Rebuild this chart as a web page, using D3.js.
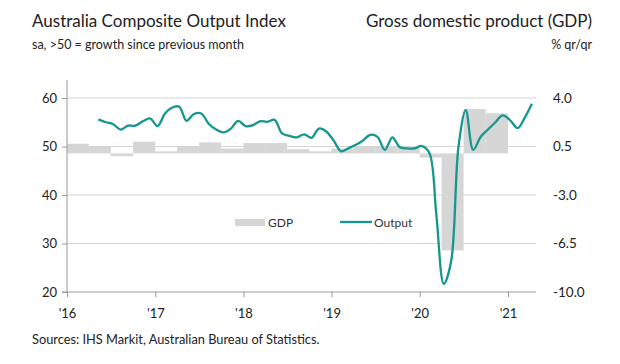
<!DOCTYPE html>
<html><head><meta charset="utf-8">
<script src="https://cdn.jsdelivr.net/npm/d3@7"></script>
<style>
html,body{margin:0;padding:0;background:#fff;}
svg{display:block;font-family:Lato,"Open Sans",sans-serif;}
</style></head>
<body><svg id="c" width="620" height="364"></svg>
<script>
// ---- data ----
// GDP % q/q, quarterly 2016 Q1 .. 2020 Q4
const gdpQuarters = ["2016Q1","2016Q2","2016Q3","2016Q4","2017Q1","2017Q2","2017Q3","2017Q4",
  "2018Q1","2018Q2","2018Q3","2018Q4","2019Q1","2019Q2","2019Q3","2019Q4",
  "2020Q1","2020Q2","2020Q3","2020Q4"];
const gdpValues = [0.7,0.5,-0.2,0.85,0.15,0.5,0.8,0.35,
  0.75,0.75,0.3,0.15,0.35,0.5,0.55,0.5,
  -0.3,-7.0,3.2,2.9];
// Composite Output Index, monthly May 2016 .. Apr 2021
const outputStart = "2016-05";
const outputValues = [
  55.6,55.0,54.6,53.5,54.3,54.3,55.2,55.8,
  54.2,56.8,58.0,58.2,55.3,56.7,56.8,54.7,53.5,52.9,53.7,55.3,
  54.2,54.4,55.2,55.1,55.5,52.7,52.2,51.9,52.5,51.8,53.7,53.1,
  51.2,49.0,49.6,50.3,51.2,52.4,52.0,49.3,51.9,49.9,49.6,49.6,
  50.1,48.7,36.0,21.7,26.2,50.0,57.5,49.3,52.0,53.5,55.0,56.4,
  55.4,53.8,55.8,58.8
];
const leftTicks = [20,30,40,50,60];
const rightTicks = [-10.0,-6.5,-3.0,0.5,4.0];
const xTickYears = [2016,2017,2018,2019,2020,2021];
const xTickLabels = ["'16","'17","'18","'19","'20","'21"];

(function(){
// ---- layout ----
const svg = d3.select("#c");
const pL = 67, pR = 536, pT = 98, pB = 292;
const x = d3.scaleTime().domain([new Date(2016,0,1), new Date(2021,3,27)]).range([pL, pR]);
const yL = d3.scaleLinear().domain([20,60]).range([pB, pT]);
const yR = d3.scaleLinear().domain([-10,4]).range([pB, pT]);

const textCol = "#222";
const gridCol = "#d4d4d4";
const barCol = "#d6d6d6";
const lineCol = "#14978f";

// gridlines
svg.append("g").selectAll("line").data(leftTicks.filter(d=>d>20)).join("line")
  .attr("x1", pL).attr("x2", pR)
  .attr("y1", d=>yL(d)).attr("y2", d=>yL(d))
  .attr("stroke", gridCol).attr("stroke-width", 1);

// bars
const qDate = (s, off) => { const y=+s.slice(0,4), q=+s.slice(5)-1; return new Date(y, q*3+off, 1); };
svg.append("g").selectAll("rect").data(gdpQuarters).join("rect")
  .attr("x", d=>x(qDate(d,0)))
  .attr("width", d=>x(qDate(d,3))-x(qDate(d,0)))
  .attr("y", (d,i)=>Math.min(yR(gdpValues[i]), yR(0)))
  .attr("height", (d,i)=>Math.abs(yR(gdpValues[i])-yR(0)))
  .attr("fill", barCol);

// left axis
const gL = svg.append("g").attr("transform",`translate(${pL},0)`)
  .call(d3.axisLeft(yL).tickValues(leftTicks).tickSize(5).tickFormat(d3.format("d")));
gL.select(".domain").attr("d", `M0,80V${pB}`).attr("stroke","#999");
gL.selectAll(".tick line").attr("stroke","#999");
gL.selectAll(".tick text").attr("fill",textCol).attr("font-size",13).attr("x",-10)
  .attr("font-family","Lato, sans-serif");

// right axis labels
const gR = svg.append("g").attr("transform",`translate(553,0)`)
  .call(d3.axisRight(yR).tickValues(rightTicks).tickSize(0).tickFormat(d=>d.toFixed(1)));
gR.select(".domain").remove();
gR.selectAll(".tick text").attr("fill",textCol).attr("font-size",13.5).attr("x",0)
  .attr("font-family","Lato, sans-serif");

// bottom axis
const gB = svg.append("g").attr("transform",`translate(0,${pB})`)
  .call(d3.axisBottom(x).tickValues(xTickYears.map(y=>new Date(y,0,1))).tickSize(5)
    .tickFormat((d,i)=>xTickLabels[i]));
gB.select(".domain").attr("d", `M${pL-5},0H${pR}`).attr("stroke","#999");
gB.selectAll(".tick line").attr("stroke","#999");
gB.selectAll(".tick text").attr("fill",textCol).attr("font-size",13).attr("dy","1.35em")
  .attr("font-family","Lato, sans-serif");

// line
const startY = +outputStart.slice(0,4), startM = +outputStart.slice(5)-1;
const pts = outputValues.map((v,i)=>[x(new Date(startY, startM+i, 10)), yL(v)]);
svg.append("path").attr("d", d3.line().curve(d3.curveCatmullRom.alpha(0.5))(pts))
  .attr("fill","none").attr("stroke",lineCol).attr("stroke-width",2.3)
  .attr("stroke-linejoin","round");

// legend
svg.append("rect").attr("x",235).attr("y",219).attr("width",30).attr("height",7).attr("fill",barCol);
svg.append("text").attr("x",268).attr("y",226.5).text("GDP").attr("font-size",12).attr("fill","#333");
svg.append("line").attr("x1",340).attr("x2",372).attr("y1",222).attr("y2",222)
  .attr("stroke",lineCol).attr("stroke-width",2.3);
svg.append("text").attr("x",374).attr("y",226.5).text("Output").attr("font-size",12).attr("fill","#333");

// titles
svg.append("text").attr("x",32).attr("y",27).text("Australia Composite Output Index")
  .attr("font-size",17).attr("fill",textCol);
svg.append("text").attr("x",32).attr("y",49).text("sa, >50 = growth since previous month")
  .attr("font-size",12.5).attr("fill",textCol);
svg.append("text").attr("x",592).attr("y",27).attr("text-anchor","end").text("Gross domestic product (GDP)")
  .attr("font-size",17).attr("fill",textCol);
svg.append("text").attr("x",592).attr("y",49).attr("text-anchor","end").text("% qr/qr")
  .attr("font-size",12.5).attr("fill",textCol);
svg.append("text").attr("x",32).attr("y",344).text("Sources: IHS Markit, Australian Bureau of Statistics.")
  .attr("font-size",12.8).attr("fill",textCol);
})();
</script></body></html>
